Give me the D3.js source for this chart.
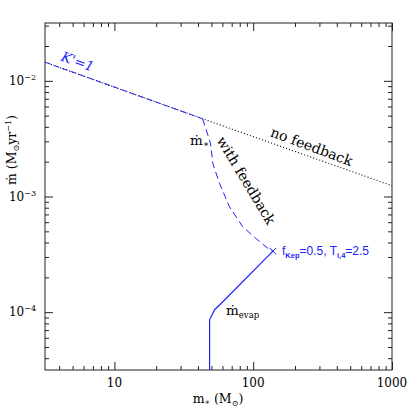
<!DOCTYPE html>
<html lang="en">
<meta charset="utf-8">
<style>
  body { margin: 0; background: #fff; }
  text { font-family: 'DejaVu Serif', serif; }
  text.sans { font-family: 'Liberation Sans', 'Helvetica', sans-serif; }
</style>
<script src="https://d3js.org/d3.v7.min.js"></script>
<body>
<div id="chart"></div>
<script>
  var W = 415, H = 415;
  var margin = {top: 23, right: 23, bottom: 45, left: 45};
  var w = W - margin.left - margin.right;
  var h = H - margin.top - margin.bottom;

  // data (m* in Msun, mdot in Msun/yr)
  var noFbM = [3.162, 43.2, 1000];
  var noFbMdot = [0.0145, 0.0047, 0.00124];

  var kPrimeM = [3.162, 43.2];
  var kPrimeMdot = [0.0145, 0.0047];

  var fbM = [43.2, 49.3, 51.2, 57.3, 67.5, 84.1, 107.9, 132.5, 138.7];
  var fbMdot = [4.7e-3, 2.87e-3, 1.92e-3, 1.29e-3, 8.13e-4, 5.47e-4, 4.2e-4, 3.44e-4, 3.37e-4];

  var evapM = [48.5, 48.5, 52.7, 60.4, 138.7];
  var evapMdot = [3.16e-5, 8.59e-5, 1.05e-4, 1.23e-4, 3.37e-4];

  var endM = [138.7];
  var endMdot = [3.37e-4];

  var xMajor = [10, 100, 1000];
  var xLabels = ["10", "100", "1000"];
  var yMajor = [1e-4, 1e-3, 1e-2];
  var yExp = ["\u22124", "\u22123", "\u22122"];

  var xMinor = [], yMinor = [];
  [1, 10, 100].forEach(function(d) {
    for (var k = 2; k <= 9; k++) if (d * k > 3.17) xMinor.push(d * k);
  });
  [1e-5, 1e-4, 1e-3, 1e-2].forEach(function(d) {
    for (var k = 2; k <= 9; k++) {
      var v = d * k;
      if (v > 3.17e-5 && v < 3.16e-2) yMinor.push(v);
    }
  });

  var svg = d3.select("#chart").append("svg")
      .attr("width", W)
      .attr("height", H);
  var g = svg.append("g")
      .attr("transform", "translate(" + margin.left + "," + margin.top + ")");

  var x = d3.scaleLog().domain([Math.pow(10, 0.5), 1000]).range([0, w]);
  var y = d3.scaleLog().domain([Math.pow(10, -4.5), Math.pow(10, -1.5)]).range([h, 0]);

  // ticks on all four sides, pointing inward
  function ticks(axisFn, vals, size, tr) {
    var a = g.append("g")
      .attr("transform", tr)
      .call(axisFn.tickValues(vals).tickSize(size).tickFormat(""));
    a.select(".domain").remove();
    a.selectAll("line").attr("stroke", "#222");
  }
  ticks(d3.axisBottom(x), xMajor, -8, "translate(0," + h + ")");
  ticks(d3.axisBottom(x), xMinor, -4, "translate(0," + h + ")");
  ticks(d3.axisTop(x), xMajor, -8, "translate(0,0)");
  ticks(d3.axisTop(x), xMinor, -4, "translate(0,0)");
  ticks(d3.axisLeft(y), yMajor, -8, "translate(0,0)");
  ticks(d3.axisLeft(y), yMinor, -4, "translate(0,0)");
  ticks(d3.axisRight(y), yMajor, -8, "translate(" + w + ",0)");
  ticks(d3.axisRight(y), yMinor, -4, "translate(" + w + ",0)");

  g.append("rect")
    .attr("width", w).attr("height", h)
    .attr("fill", "none").attr("stroke", "#222").attr("stroke-width", 1);

  // tick labels
  g.selectAll(".xl").data(xMajor).enter().append("text")
    .attr("x", function(d) { return x(d); })
    .attr("y", h + 17)
    .attr("text-anchor", "middle")
    .attr("font-size", 12)
    .text(function(d, i) { return xLabels[i]; });

  var yl = g.selectAll(".yl").data(yMajor).enter().append("text")
    .attr("x", -9)
    .attr("y", function(d) { return y(d) + 4; })
    .attr("text-anchor", "end")
    .attr("font-size", 12);
  yl.append("tspan").text("10");
  yl.append("tspan").attr("dy", -5).attr("font-size", 8).text(function(d, i) { return yExp[i]; });

  // axis titles
  var xt = svg.append("text")
    .attr("x", 218).attr("y", 403)
    .attr("text-anchor", "middle")
    .attr("font-size", 12.5);
  xt.append("tspan").text("m");
  xt.append("tspan").attr("dy", 2).attr("font-size", 8).text("\u2217");
  xt.append("tspan").attr("dy", -2).text(" (M");
  xt.append("tspan").attr("dy", 3).attr("font-size", 8).text("\u2299");
  xt.append("tspan").attr("dy", -3).text(")");

  var yt = svg.append("text")
    .attr("transform", "translate(16,150)rotate(-90)")
    .attr("text-anchor", "middle")
    .attr("font-size", 12.5);
  yt.append("tspan").text("\u1E41 (M");
  yt.append("tspan").attr("dy", 3).attr("font-size", 8).text("\u2299");
  yt.append("tspan").attr("dy", -3).text("yr");
  yt.append("tspan").attr("dy", -5).attr("font-size", 8).text("\u22121");
  yt.append("tspan").attr("dy", 5).text(")");

  // curves
  function line(ms, ds) {
    return d3.line()
      .x(function(d) { return x(d); })
      .y(function(d, i) { return y(ds[i]); })(ms);
  }

  g.append("path")
    .attr("d", line(noFbM, noFbMdot))
    .attr("fill", "none").attr("stroke", "#000").attr("stroke-width", 1.1)
    .attr("stroke-dasharray", "1,2.2");

  g.append("path")
    .attr("d", line(kPrimeM, kPrimeMdot))
    .attr("fill", "none").attr("stroke", "#2020ff").attr("stroke-width", 1)
    .attr("stroke-dasharray", "6,3");

  g.append("path")
    .attr("d", line(fbM, fbMdot))
    .attr("fill", "none").attr("stroke", "#2020ff").attr("stroke-width", 1)
    .attr("stroke-dasharray", "7,4");

  g.append("path")
    .attr("d", line(evapM, evapMdot))
    .attr("fill", "none").attr("stroke", "#2020ff").attr("stroke-width", 1.2);

  g.selectAll(".mark").data(endM).enter().append("path")
    .attr("transform", function(d, i) { return "translate(" + x(d) + "," + y(endMdot[i]) + ")"; })
    .attr("d", d3.symbol().type(d3.symbolX).size(30))
    .attr("fill", "none").attr("stroke", "#2020ff").attr("stroke-width", 1);

  // annotations
  svg.append("text")
    .attr("transform", "translate(76,66)rotate(20)")
    .attr("text-anchor", "middle")
    .attr("font-size", 13.5).attr("font-style", "italic")
    .attr("fill", "#2020ff")
    .text("K'=1");

  var ms = svg.append("text")
    .attr("x", 190).attr("y", 145)
    .attr("font-size", 13.5);
  ms.append("tspan").text("\u1E41");
  ms.append("tspan").attr("dy", 2).attr("font-size", 9).text("\u2217");

  svg.append("text")
    .attr("transform", "translate(310,151)rotate(20.5)")
    .attr("text-anchor", "middle")
    .attr("font-size", 14)
    .text("no feedback");

  svg.append("text")
    .attr("transform", "translate(242,183)rotate(59)")
    .attr("text-anchor", "middle")
    .attr("font-size", 14)
    .text("with feedback");

  var fk = svg.append("text")
    .attr("class", "sans")
    .attr("x", 282).attr("y", 255)
    .attr("font-size", 12)
    .attr("fill", "#2020ff");
  fk.append("tspan").text("f");
  fk.append("tspan").attr("dy", 2.5).attr("font-size", 7.5).attr("font-weight", "bold").text("Kep");
  fk.append("tspan").attr("dy", -2.5).text("=0.5,  T");
  fk.append("tspan").attr("dy", 2.5).attr("font-size", 7.5).attr("font-weight", "bold").text("i,4");
  fk.append("tspan").attr("dy", -2.5).text("=2.5");

  var me = svg.append("text")
    .attr("x", 226).attr("y", 315)
    .attr("font-size", 13.5);
  me.append("tspan").text("\u1E41");
  me.append("tspan").attr("dy", 3).attr("font-size", 8.5).text("evap");
</script>
</body>
</html>
